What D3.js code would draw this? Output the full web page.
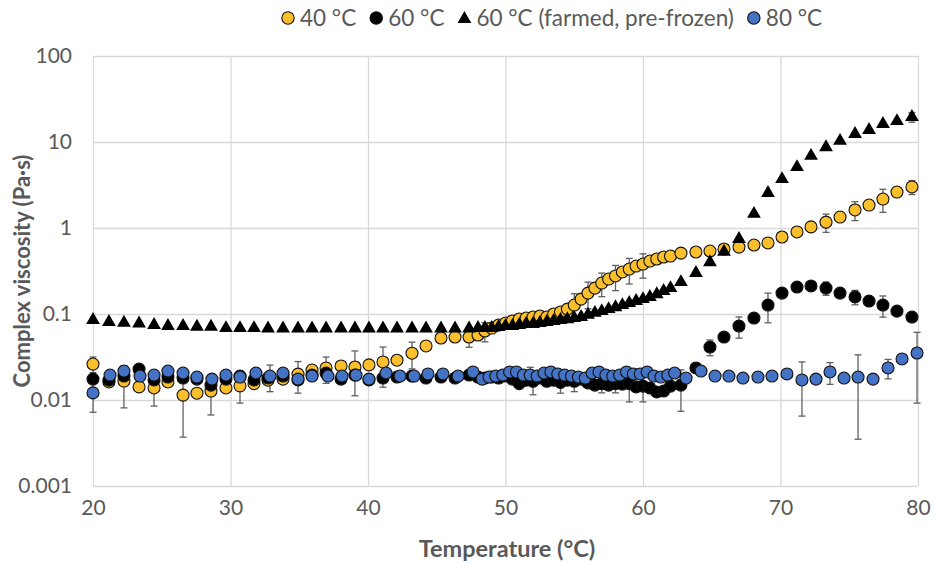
<!DOCTYPE html>
<html>
<head>
<meta charset="utf-8">
<script src="https://cdn.jsdelivr.net/npm/d3@7"></script>
<style>
  body { margin: 0; background: #ffffff; }
  svg text { font-family: Lato, "Open Sans", "Liberation Sans", sans-serif; }
</style>
</head>
<body>
<svg id="chart" width="935" height="564"></svg>
<script>
// ---- Data -------------------------------------------------------------
// Temperature grid shared by the 40 °C, 60 °C and farmed 60 °C runs (°C)
const temps = [
  20.0, 21.16, 22.25, 23.35, 24.44, 25.45, 26.55, 27.56, 28.58, 29.67,
  30.69, 31.71, 32.73, 33.82, 34.91, 35.93, 36.95, 38.04, 39.05, 40.07,
  41.09, 42.11, 43.2, 44.22, 45.31, 46.33, 47.35,
  48.0, 48.5, 49.0, 49.5, 50.0, 50.5, 51.0, 51.5, 52.0, 52.5,
  53.0, 53.5, 54.0, 54.5, 55.0, 55.5, 56.0, 56.5, 57.0, 57.5,
  58.0, 58.5, 59.0, 59.5, 60.0, 60.5, 61.0, 61.5, 62.0,
  62.76, 63.85, 64.87, 65.89, 66.98, 68.07, 69.09, 70.11, 71.2, 72.22,
  73.31, 74.33, 75.42, 76.44, 77.45, 78.47, 79.56
];

// Temperature grid of the 80 °C run (°C)
const temps80 = [
  20.0, 21.24, 22.25, 23.42, 24.44, 25.45, 26.55, 27.56, 28.65, 29.67,
  30.69, 31.85, 32.87, 33.82, 34.91, 35.93, 37.09, 38.11, 39.13, 40.07,
  41.31, 42.33, 43.35, 44.36, 45.45, 46.55, 47.64,
  48.3, 48.8, 49.3, 49.8, 50.3, 50.8, 51.3, 51.8, 52.3, 52.8,
  53.3, 53.8, 54.3, 54.8, 55.3, 55.8, 56.3, 56.8, 57.3, 57.8,
  58.3, 58.8, 59.3, 59.8, 60.3, 60.8, 61.3, 61.8, 62.3,
  63.13, 64.22, 65.24, 66.25, 67.27, 68.36, 69.38, 70.47, 71.56, 72.58,
  73.6, 74.62, 75.64, 76.73, 77.82, 78.84, 79.93
];

// Complex viscosity (Pa·s)
const visc40 = [
  0.0262, 0.0162, 0.0166, 0.0142, 0.0138, 0.0162, 0.0114, 0.0120, 0.0127, 0.0138,
  0.0146, 0.0155, 0.0170, 0.0175, 0.0200, 0.0223, 0.0236, 0.0249, 0.0242, 0.0256,
  0.0277, 0.0290, 0.0350, 0.0425, 0.0526, 0.0540, 0.0540,
  0.057, 0.0634, 0.0687, 0.0745, 0.0785, 0.083, 0.0875, 0.0898, 0.0922, 0.0948,
  0.0922, 0.100, 0.1055, 0.114, 0.127, 0.149, 0.175, 0.200, 0.229, 0.255,
  0.277, 0.308, 0.333, 0.361, 0.381, 0.413, 0.436, 0.460, 0.472,
  0.51, 0.526, 0.54, 0.57, 0.60, 0.634, 0.67, 0.786, 0.90, 1.03,
  1.17, 1.34, 1.62, 1.85, 2.17, 2.62, 3.0
];
const sd40 = [
  0.0054, 0, 0.0085, 0, 0.0053, 0, 0.0077, 0, 0.006, 0,
  0.0054, 0, 0, 0, 0.008, 0, 0.008, 0, 0.013, 0,
  0.0136, 0, 0.012, 0, 0, 0, 0.013,
  0, 0.016, 0, 0, 0, 0, 0, 0, 0, 0,
  0, 0, 0, 0, 0.045, 0, 0.06, 0, 0.07, 0,
  0.09, 0, 0.11, 0, 0.12, 0, 0.055, 0, 0,
  0, 0, 0, 0, 0, 0, 0, 0, 0, 0,
  0.28, 0, 0.4, 0, 0.65, 0, 0.55
];

const visc60 = [
  0.0175, 0.0170, 0.0190, 0.0229, 0.0171, 0.0185, 0.0180, 0.0175, 0.0149, 0.0175,
  0.0190, 0.0171, 0.0180, 0.0190, 0.0171, 0.0195, 0.0206, 0.0175, 0.0195, 0.0171,
  0.0180, 0.0185, 0.0190, 0.0180, 0.0185, 0.0180, 0.0195,
  0.0185, 0.0180, 0.0185, 0.0180, 0.0190, 0.0175, 0.0155, 0.0170, 0.0165, 0.0180,
  0.0165, 0.0170, 0.0160, 0.0170, 0.0165, 0.0175, 0.0158, 0.0149, 0.0155, 0.0149,
  0.0155, 0.0153, 0.0155, 0.0142, 0.0145, 0.0138, 0.0124, 0.0127, 0.0145,
  0.0149, 0.0236, 0.0413, 0.054, 0.0724, 0.0898, 0.127, 0.175, 0.206, 0.212,
  0.200, 0.175, 0.158, 0.1416, 0.127, 0.108, 0.0922
];
const sd60 = [
  0, 0, 0, 0, 0, 0, 0, 0, 0, 0,
  0, 0, 0, 0, 0, 0, 0, 0, 0, 0,
  0, 0, 0, 0, 0, 0, 0,
  0, 0, 0, 0, 0, 0, 0, 0, 0.005, 0,
  0, 0, 0.004, 0, 0.004, 0, 0, 0, 0.0034, 0,
  0.0034, 0, 0.006, 0, 0.005, 0, 0, 0, 0,
  0.0075, 0, 0.0086, 0, 0.02, 0, 0.048, 0, 0, 0,
  0.035, 0, 0.03, 0, 0.035, 0, 0
];

const viscFarmed = [
  0.085, 0.0807, 0.079, 0.0775, 0.0745, 0.0725, 0.0725, 0.071, 0.071, 0.0685,
  0.0685, 0.0685, 0.068, 0.068, 0.068, 0.068, 0.068, 0.068, 0.068, 0.068,
  0.068, 0.068, 0.068, 0.068, 0.068, 0.068, 0.068,
  0.0687, 0.0687, 0.0687, 0.0705, 0.0724, 0.0724, 0.0745, 0.0765, 0.0765, 0.0785,
  0.0807, 0.083, 0.085, 0.087, 0.0898, 0.0922, 0.098, 0.103, 0.108, 0.114,
  0.120, 0.127, 0.134, 0.1416, 0.149, 0.158, 0.170, 0.185, 0.200,
  0.235, 0.30, 0.40, 0.53, 0.745, 1.46, 2.55, 3.7, 5.1, 6.9,
  8.7, 10.3, 12.4, 13.8, 16.2, 17.5, 19.5
];
const sdFarmed = [
  0, 0, 0, 0, 0, 0, 0, 0, 0, 0,
  0, 0, 0, 0, 0, 0, 0, 0, 0, 0,
  0, 0, 0, 0, 0, 0, 0,
  0, 0, 0, 0, 0, 0, 0, 0, 0, 0,
  0, 0, 0, 0, 0, 0, 0, 0, 0, 0,
  0, 0, 0, 0, 0, 0, 0, 0, 0,
  0, 0, 0, 0, 0, 0, 0, 0, 0, 0,
  0, 0, 0, 0, 0, 0, 2.5
];

const visc80 = [
  0.0121, 0.0195, 0.0217, 0.0190, 0.0195, 0.0217, 0.0206, 0.0185, 0.0175, 0.0195,
  0.0185, 0.0206, 0.0190, 0.0206, 0.0175, 0.0190, 0.0190, 0.0190, 0.0195, 0.0175,
  0.0206, 0.0190, 0.0190, 0.0201, 0.0201, 0.0190, 0.0212,
  0.0175, 0.0185, 0.0190, 0.0195, 0.0212, 0.0212, 0.0195, 0.0195, 0.0190, 0.0206,
  0.0212, 0.0201, 0.0195, 0.0190, 0.0185, 0.0180, 0.0206, 0.0212, 0.0195, 0.0190,
  0.0195, 0.0212, 0.0201, 0.0201, 0.0212, 0.0190, 0.0185, 0.0195, 0.0206,
  0.0180, 0.0217, 0.0190, 0.0190, 0.0180, 0.0185, 0.0190, 0.0201, 0.0171, 0.0175,
  0.0212, 0.0180, 0.0185, 0.0175, 0.0236, 0.0300, 0.0352
];
const sd80 = [
  0.0049, 0, 0, 0, 0, 0, 0, 0, 0, 0,
  0, 0, 0.0065, 0, 0, 0, 0, 0, 0, 0,
  0, 0, 0, 0, 0, 0, 0,
  0, 0, 0, 0, 0, 0, 0, 0.0045, 0, 0,
  0, 0, 0, 0, 0, 0, 0, 0, 0, 0,
  0, 0, 0, 0, 0, 0, 0, 0, 0,
  0, 0, 0, 0, 0, 0, 0, 0, 0.0106, 0,
  0.006, 0, 0.015, 0, 0.006, 0, 0.026
];

// Axis ticks
const xTicks = [20, 30, 40, 50, 60, 70, 80];
const yTicks = [0.001, 0.01, 0.1, 1, 10, 100];
const yTickLabels = ["0.001", "0.01", "0.1", "1", "10", "100"];

// Series definitions (drawn in this order)
const series = [
  { name: "40 °C", t: temps, v: visc40, sd: sd40, shape: "circle", fill: "#FBBF2C" },
  { name: "60 °C", t: temps, v: visc60, sd: sd60, shape: "circle", fill: "#000000" },
  { name: "60 °C (farmed, pre-frozen)", t: temps, v: viscFarmed, sd: sdFarmed, shape: "triangle", fill: "#000000" },
  { name: "80 °C", t: temps80, v: visc80, sd: sd80, shape: "circle", fill: "#4472C4" }
];

// ---- Layout -----------------------------------------------------------
const plot = { left: 93, right: 918, top: 56, bottom: 486 };
const textColor = "#595959";
const gridColor = "#D9D9D9";

const svg = d3.select("#chart");

const x = d3.scaleLinear().domain([20, 80]).range([plot.left, plot.right]);
const y = d3.scaleLog().domain([0.001, 100]).range([plot.bottom, plot.top]);

// Gridlines + x axis
const xAxis = d3.axisBottom(x)
  .tickValues(xTicks)
  .tickFormat(d3.format("d"))
  .tickSize(-(plot.bottom - plot.top))
  .tickPadding(14);
const gx = svg.append("g")
  .attr("transform", `translate(0,${plot.bottom})`)
  .call(xAxis);
gx.select(".domain").remove();
gx.selectAll(".tick line").attr("stroke", gridColor).attr("stroke-width", 1.3);
gx.selectAll(".tick text")
  .attr("fill", textColor)
  .style("font-size", "21px");

// Gridlines + y axis
const yAxis = d3.axisLeft(y)
  .tickValues(yTicks)
  .tickFormat((d, i) => yTickLabels[i])
  .tickSize(-(plot.right - plot.left))
  .tickPadding(21);
const gy = svg.append("g")
  .attr("transform", `translate(${plot.left},0)`)
  .call(yAxis);
gy.select(".domain").remove();
gy.selectAll(".tick line").attr("stroke", gridColor).attr("stroke-width", 1.3);
gy.selectAll(".tick text")
  .attr("fill", textColor)
  .style("font-size", "21px");

// Axis titles
svg.append("text")
  .attr("x", 507)
  .attr("y", 557)
  .attr("text-anchor", "middle")
  .attr("fill", textColor)
  .style("font-size", "23.5px")
  .style("font-weight", "bold")
  .text("Temperature (°C)");

svg.append("text")
  .attr("transform", `translate(30,${(plot.top + plot.bottom) / 2}) rotate(-90)`)
  .attr("text-anchor", "middle")
  .attr("fill", textColor)
  .style("font-size", "22px")
  .style("font-weight", "bold")
  .text("Complex viscosity (Pa·s)");

// ---- Marks ------------------------------------------------------------
const triangle = d3.symbol().type(d3.symbolTriangle).size(82);
const yMin = y.domain()[0];

// Error bars (± standard deviation) underneath the markers
const gErr = svg.append("g").attr("stroke", "#606060").attr("stroke-width", 1.3);
series.forEach(s => {
  s.t.forEach((t, i) => {
    const sd = s.sd[i];
    if (!sd) return;
    const v = s.v[i];
    const hi = v + sd;
    const lo = Math.max(v - sd, yMin);
    const cx = x(t);
    gErr.append("line").attr("x1", cx).attr("x2", cx).attr("y1", y(hi)).attr("y2", y(lo));
    gErr.append("line").attr("x1", cx - 3.5).attr("x2", cx + 3.5).attr("y1", y(hi)).attr("y2", y(hi));
    if (v - sd > yMin) {
      gErr.append("line").attr("x1", cx - 3.5).attr("x2", cx + 3.5).attr("y1", y(lo)).attr("y2", y(lo));
    }
  });
});

// Markers
series.forEach(s => {
  const pts = s.t.map((t, i) => ({ t, v: s.v[i] }));
  const g = svg.append("g");
  if (s.shape === "circle") {
    g.selectAll("circle").data(pts).join("circle")
      .attr("cx", d => x(d.t))
      .attr("cy", d => y(d.v))
      .attr("r", 6)
      .attr("fill", s.fill)
      .attr("stroke", "#111111")
      .attr("stroke-width", 1.1);
  } else {
    g.selectAll("path").data(pts).join("path")
      .attr("d", triangle)
      .attr("transform", d => `translate(${x(d.t)},${y(d.v)})`)
      .attr("fill", s.fill);
  }
});

// ---- Legend -----------------------------------------------------------
const legend = svg.append("g").attr("transform", "translate(0,18)");
const items = [];
series.forEach(s => {
  const it = legend.append("g");
  if (s.shape === "circle") {
    it.append("circle").attr("cx", 0).attr("cy", 0).attr("r", 6.2)
      .attr("fill", s.fill).attr("stroke", "#111111").attr("stroke-width", 1.1);
  } else {
    it.append("path").attr("d", triangle).attr("transform", "translate(0,1)").attr("fill", s.fill);
  }
  const txt = it.append("text")
    .attr("x", 12)
    .attr("y", 0)
    .attr("dy", "0.36em")
    .attr("fill", textColor)
    .style("font-size", "22.5px")
    .text(s.name);
  items.push({ g: it, w: 12 + txt.node().getComputedTextLength() });
});
const gap = 20;
const legendLeft = 288;
let cursor = legendLeft;
items.forEach(d => {
  d.g.attr("transform", `translate(${cursor},0)`);
  cursor += d.w + gap;
});
</script>
</body>
</html>
